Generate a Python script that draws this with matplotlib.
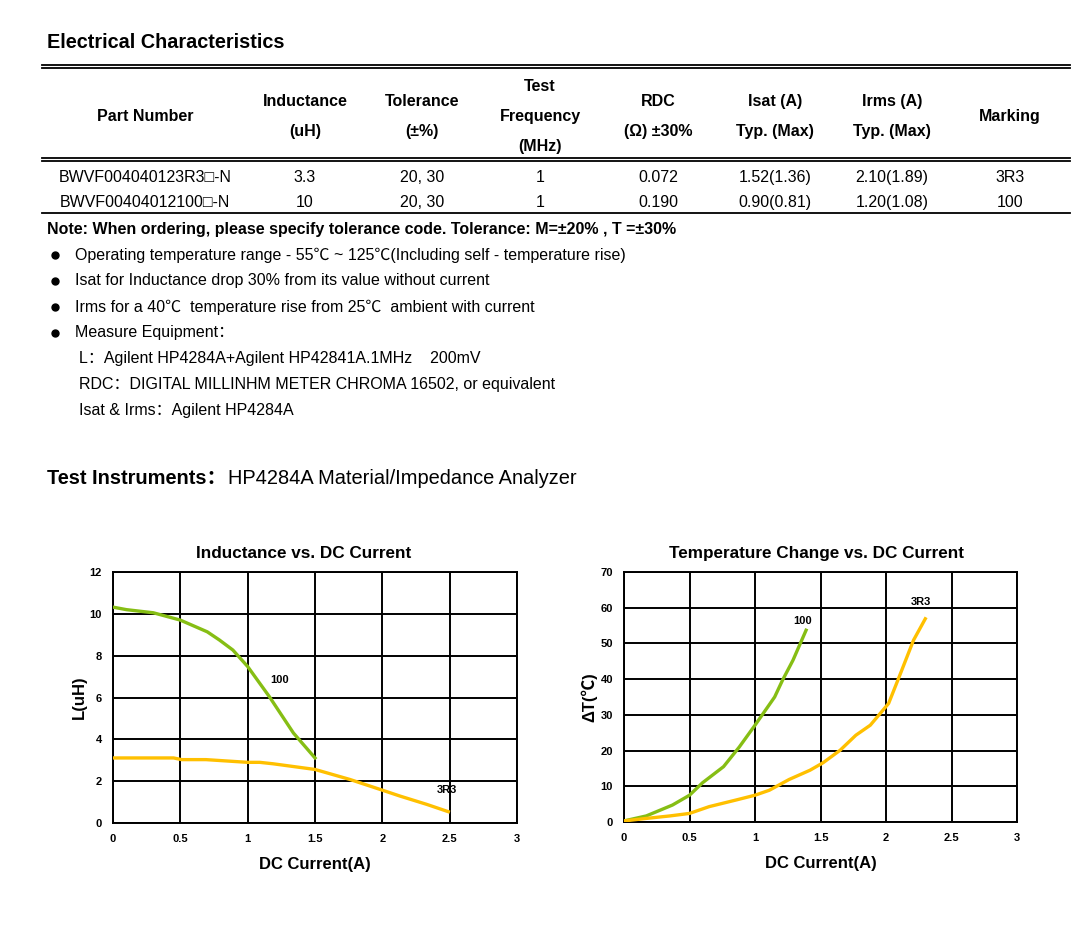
import matplotlib
matplotlib.use("Agg")
import matplotlib.pyplot as plt

plt.rcParams['font.family'] = ['Liberation Sans', 'Noto Sans CJK SC', 'DejaVu Sans']

# Table data
part_numbers = ["BWVF004040123R3\u25a1-N", "BWVF00404012100\u25a1-N"]
inductance = ["3.3", "10"]
tolerance = ["20, 30", "20, 30"]
test_freq = ["1", "1"]
rdc = ["0.072", "0.190"]
isat = ["1.52(1.36)", "0.90(0.81)"]
irms = ["2.10(1.89)", "1.20(1.08)"]
marking = ["3R3", "100"]

notes = [
    "Operating temperature range - 55\u2103 ~ 125\u2103(Including self - temperature rise)",
    "Isat for Inductance drop 30% from its value without current",
    "Irms for a 40\u2103  temperature rise from 25\u2103  ambient with current",
    "Measure Equipment\uff1a",
]
sub_notes = [
    "L\uff1aAgilent HP4284A+Agilent HP42841A.1MHz    200mV",
    "RDC\uff1aDIGITAL MILLINHM METER CHROMA 16502, or equivalent",
    "Isat & Irms\uff1aAgilent HP4284A",
]

# Inductance vs DC current
ind_100_x = [0, 0.1, 0.3, 0.5, 0.7, 0.79, 0.89, 1.0, 1.16, 1.34, 1.5]
ind_100_y = [10.32, 10.2, 10.05, 9.7, 9.14, 8.75, 8.27, 7.48, 6.05, 4.3, 3.11]
ind_3r3_x = [0, 0.45, 0.51, 0.69, 1.0, 1.09, 1.19, 1.5, 1.63, 1.76, 2.0, 2.13, 2.33, 2.49]
ind_3r3_y = [3.11, 3.11, 3.03, 3.03, 2.9, 2.9, 2.83, 2.56, 2.32, 2.08, 1.57, 1.29, 0.89, 0.54]

# Temperature rise vs DC current
tmp_100_x = [0, 0.17, 0.37, 0.5, 0.6, 0.76, 0.88, 1.0, 1.15, 1.21, 1.29, 1.39]
tmp_100_y = [0.3, 1.7, 4.75, 7.5, 11, 15.5, 21, 27.1, 35, 39.7, 45.3, 53.7]
tmp_3r3_x = [0, 0.17, 0.35, 0.5, 0.65, 0.86, 1.0, 1.11, 1.26, 1.42, 1.52, 1.65, 1.77, 1.88, 2.02, 2.1, 2.21, 2.3]
tmp_3r3_y = [0.3, 1.0, 1.7, 2.4, 4.3, 6.2, 7.5, 8.9, 11.9, 14.5, 16.6, 20.1, 24.3, 27.1, 33.2, 40.6, 50.9, 56.9]

GREEN = "#86BE14"
YELLOW = "#FFC000"

W, H = 1082, 927
fig = plt.figure(figsize=(W / 100, H / 100), dpi=100)

# page layer in pixel coordinates
pg = fig.add_axes([0, 0, 1, 1])
pg.set_xlim(0, W)
pg.set_ylim(H, 0)
pg.axis("off")

pg.text(47, 42, "Electrical Characteristics", fontsize=14.3, fontweight="bold", va="center")

for y in (65, 68, 158, 161):
    pg.plot([42, 1070], [y, y], color="black", lw=1.3)
pg.plot([42, 1070], [213, 213], color="black", lw=1.3)

cols = [145, 305, 422, 540, 658, 775, 892, 1010]
headers = [
    [("Part Number", 116)],
    [("Inductance", 101), ("(uH)", 131)],
    [("Tolerance", 101), ("(\u00b1%)", 131)],
    [("Test", 86), ("Frequency", 116), ("(MHz)", 146)],
    [("RDC", 101), ("(\u03a9) \u00b130%", 131)],
    [("Isat (A)", 101), ("Typ. (Max)", 131)],
    [("Irms (A)", 101), ("Typ. (Max)", 131)],
    [("Marking", 116)],
]
for cx, hd in zip(cols, headers):
    for txt, y in hd:
        pg.text(cx, y, txt, fontsize=11.5, fontweight="bold", ha="center", va="center")

rows = list(zip(part_numbers, inductance, tolerance, test_freq, rdc, isat, irms, marking))
for y, row in zip((177, 202), rows):
    for cx, val in zip(cols, row):
        pg.text(cx, y, val, fontsize=11.5, ha="center", va="center")

pg.text(47, 229, "Note: When ordering, please specify tolerance code. Tolerance: M=\u00b120% , T =\u00b130%",
        fontsize=11.5, fontweight="bold", va="center")
for i, t in enumerate(notes):
    y = 255 + 26 * i
    pg.plot(55, y, "o", color="black", ms=5)
    pg.text(75, y, t, fontsize=11.5, va="center")
for i, t in enumerate(sub_notes):
    pg.text(79, 359 + 26 * i, t, fontsize=11.5, va="center")

pg.text(47, 478, "Test Instruments\uff1a", fontsize=14.4, fontweight="bold", va="center")
pg.text(228, 478, "HP4284A Material/Impedance Analyzer", fontsize=14.4, va="center")


def style(ax, ymax, ystep, title, title_x, ylabel):
    ax.set_xlim(0, 3)
    ax.set_ylim(0, ymax)
    ax.set_xticks([0, 0.5, 1, 1.5, 2, 2.5, 3])
    ax.set_xticklabels(["0", "0.5", "1", "1.5", "2", "2.5", "3"])
    ax.set_yticks(list(range(0, ymax + 1, ystep)))
    ax.grid(True, color="black", lw=1.4)
    ax.set_axisbelow(True)
    for s in ax.spines.values():
        s.set_color("black")
        s.set_linewidth(1.4)
    ax.tick_params(length=0, labelsize=8, pad=8)
    for lb in ax.get_xticklabels() + ax.get_yticklabels():
        lb.set_fontweight("bold")
    ax.set_title(title, fontsize=12.3, fontweight="bold", pad=10, x=title_x)
    ax.set_xlabel("DC Current(A)", fontsize=12, fontweight="bold", labelpad=9)
    ax.set_ylabel(ylabel, fontsize=12, fontweight="bold", labelpad=2)


ax1 = fig.add_axes([113 / W, 1 - 823 / H, 404 / W, 251 / H])
ax1.plot(ind_100_x, ind_100_y, color=GREEN, lw=2.4, zorder=3)
ax1.plot(ind_3r3_x, ind_3r3_y, color=YELLOW, lw=2.4, zorder=3)
ax1.text(1.24, 6.84, "100", fontsize=8, fontweight="bold", ha="center", va="center")
ax1.text(2.48, 1.6, "3R3", fontsize=8, fontweight="bold", ha="center", va="center")
style(ax1, 12, 2, "Inductance vs. DC Current", 0.473, "L(uH)")

ax2 = fig.add_axes([624 / W, 1 - 822 / H, 393 / W, 250 / H])
ax2.plot(tmp_100_x, tmp_100_y, color=GREEN, lw=2.4, zorder=3)
ax2.plot(tmp_3r3_x, tmp_3r3_y, color=YELLOW, lw=2.4, zorder=3)
ax2.text(1.36, 56.3, "100", fontsize=8, fontweight="bold", ha="center", va="center")
ax2.text(2.27, 61.6, "3R3", fontsize=8, fontweight="bold", ha="center", va="center")
style(ax2, 70, 10, "Temperature Change vs. DC Current", 0.489, "\u0394T(\u2103)")

fig.savefig("out.png", dpi=100)
